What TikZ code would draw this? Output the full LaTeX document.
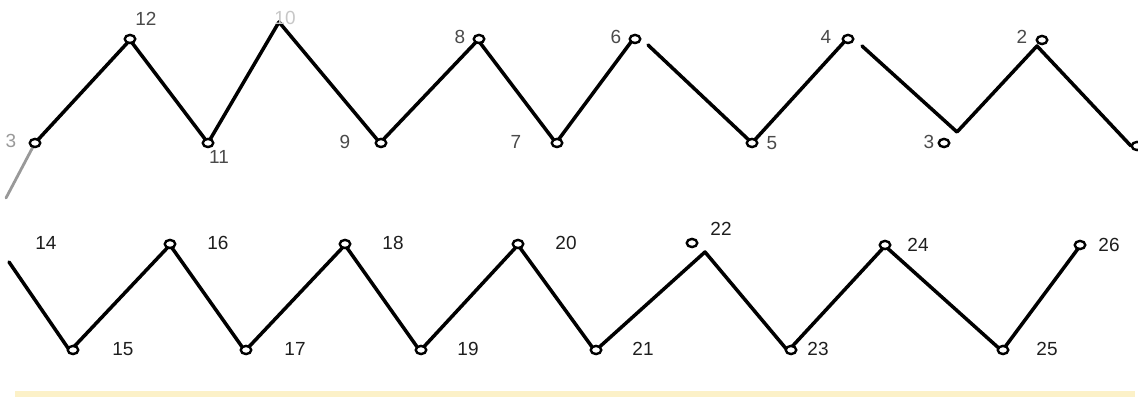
\documentclass[tikz,border=0pt]{standalone}
\usepackage{fontspec}
\setmainfont{Liberation Sans}
\usetikzlibrary{shapes.geometric}
\definecolor{bandyellow}{HTML}{FCF1C8}
\definecolor{labtop}{HTML}{4A4A4A}
\definecolor{labbot}{HTML}{1E1E1E}
\tikzset{
  zig/.style={line width=2.5pt, black, line join=round, line cap=round},
  ring/.style={ellipse, draw=black, fill=white, line width=1.7pt, minimum width=7.5pt, minimum height=5.8pt, inner sep=0pt},
  toplab/.style={text=labtop, font=\fontsize{13.5}{15}\selectfont, inner sep=0pt},
  botlab/.style={text=labbot, font=\fontsize{13.5}{15}\selectfont, inner sep=0pt},
}
\begin{document}
\begin{tikzpicture}[x=0.025cm,y=-0.025cm]
\useasboundingbox (0,0) rectangle (1138,398);
\fill[white] (0,0) rectangle (1138,398);
% band at bottom
\fill[bandyellow] (15,391) rectangle (1135,397);
% top row vertices
\coordinate (v13) at (35,143);
\coordinate (v12) at (130,40);
\coordinate (v11) at (208,143);
\coordinate (v10) at (279,22);
\coordinate (v9) at (380,143);
\coordinate (v8) at (478,40);
\coordinate (v7) at (556,143);
\coordinate (v6a) at (631,42);
\coordinate (v6b) at (648,45);
\coordinate (v5) at (752,143);
\coordinate (v4a) at (845,41);
\coordinate (v4b) at (862,46);
\coordinate (v3) at (957,132);
\coordinate (v2) at (1037,46);
\coordinate (v1) at (1131,146);
\coordinate (vL) at (6,198);
% bottom row vertices
\coordinate (v14) at (9,262);
\coordinate (v15) at (70,351);
\coordinate (v16) at (170,245);
\coordinate (v17) at (245,351);
\coordinate (v18) at (345,245);
\coordinate (v19) at (420,351);
\coordinate (v20) at (518,245);
\coordinate (v21) at (595,351);
\coordinate (v22) at (705,252);
\coordinate (v23) at (788,351);
\coordinate (v24) at (885,246);
\coordinate (v25) at (1002,351);
\coordinate (v26) at (1080,246);
% connectors
\draw[line width=2pt, black!40, line cap=round] (v13) -- (vL);
\draw[zig] (v13) -- (v12) -- (v11) -- (v10) -- (v9) -- (v8) -- (v7) -- (v6a);
\draw[zig] (v6b) -- (v5) -- (v4a);
\draw[zig] (v4b) -- (v3) -- (v2) -- (v1);
\draw[zig] (v14) -- (v15) -- (v16) -- (v17) -- (v18) -- (v19) -- (v20) -- (v21) -- (v22) -- (v23) -- (v24) -- (v25) -- (v26);
% rings
\node[ring] (p13) at (35,143) {};
\node[ring] (p12) at (130,39) {};
\node[ring] (p11) at (208,143) {};
\node[ring] (p9) at (381,143) {};
\node[ring] (p8) at (479,39) {};
\node[ring] (p7) at (557,143) {};
\node[ring] (p6) at (635,39) {};
\node[ring] (p5) at (752,143) {};
\node[ring] (p4) at (848,39) {};
\node[ring] (p3) at (944,143) {};
\node[ring] (p2) at (1042,40) {};
\node[ring] (p1) at (1137,146) {};
\node[ring] (p15) at (73,350) {};
\node[ring] (p16) at (170,244) {};
\node[ring] (p17) at (246,350) {};
\node[ring] (p18) at (345,244) {};
\node[ring] (p19) at (421,350) {};
\node[ring] (p20) at (518,244) {};
\node[ring] (p21) at (596,350) {};
\node[ring] (p22) at (692,243) {};
\node[ring] (p23) at (791,350) {};
\node[ring] (p24) at (885,245) {};
\node[ring] (p25) at (1003,350) {};
\node[ring] (p26) at (1080,245) {};
% labels top
\node[toplab, text=black!40] (l13) at (11,141) {3};
\node[toplab] (l12) at (146,19) {12};
\node[toplab, text=black!22] (l10) at (285,18) {10};
\node[toplab] (l11) at (219,157) {11};
\node[toplab] (l9) at (345,142) {9};
\node[toplab] (l8) at (460,37) {8};
\node[toplab] (l7) at (516,142) {7};
\node[toplab] (l6) at (616,37) {6};
\node[toplab] (l5) at (772,143) {5};
\node[toplab] (l4) at (826,37) {4};
\node[toplab] (l3) at (929,142) {3};
\node[toplab] (l2) at (1022,37) {2};
% labels bottom
\node[botlab] (l14) at (46,243) {14};
\node[botlab] (l15) at (123,349) {15};
\node[botlab] (l16) at (218,243) {16};
\node[botlab] (l17) at (295,349) {17};
\node[botlab] (l18) at (393,243) {18};
\node[botlab] (l19) at (468,349) {19};
\node[botlab] (l20) at (566,243) {20};
\node[botlab] (l21) at (643,349) {21};
\node[botlab] (l22) at (721,229) {22};
\node[botlab] (l23) at (818,349) {23};
\node[botlab] (l24) at (918,245) {24};
\node[botlab] (l25) at (1047,349) {25};
\node[botlab] (l26) at (1109,245) {26};
\end{tikzpicture}
\end{document}
